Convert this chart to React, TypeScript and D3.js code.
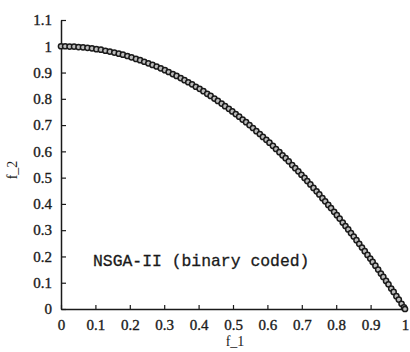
import React, { useEffect, useRef } from 'react';
import * as d3 from 'd3';

const F1 = [
  0, 0.012, 0.025, 0.038, 0.051, 0.064, 0.077, 0.090, 0.103, 0.116, 0.129, 0.142, 0.155, 0.168,
  0.180, 0.193, 0.205, 0.218, 0.230, 0.242, 0.254, 0.266, 0.278, 0.290, 0.302, 0.313, 0.325,
  0.336, 0.348, 0.359, 0.370, 0.381, 0.392, 0.403, 0.414, 0.425, 0.435, 0.446, 0.456, 0.467,
  0.477, 0.488, 0.498, 0.508, 0.518, 0.528, 0.538, 0.548, 0.558, 0.568, 0.578, 0.587, 0.597,
  0.606, 0.616, 0.625, 0.635, 0.644, 0.653, 0.662, 0.672, 0.681, 0.690, 0.699, 0.708, 0.716,
  0.725, 0.734, 0.743, 0.751, 0.760, 0.768, 0.777, 0.785, 0.794, 0.802, 0.810, 0.819, 0.827,
  0.835, 0.843, 0.851, 0.859, 0.867, 0.875, 0.883, 0.891, 0.899, 0.906, 0.914, 0.922, 0.930,
  0.937, 0.945, 0.952, 0.960, 0.967, 0.975, 0.982, 0.990, 0.997, 1.000,
];
const F2 = [
  1.000, 1.000, 0.999, 0.999, 0.997, 0.996, 0.994, 0.992, 0.989, 0.987, 0.983, 0.980, 0.976, 0.972,
  0.968, 0.963, 0.958, 0.952, 0.947, 0.941, 0.935, 0.929, 0.923, 0.916, 0.909, 0.902, 0.894,
  0.887, 0.879, 0.871, 0.863, 0.855, 0.846, 0.838, 0.829, 0.819, 0.811, 0.801, 0.792, 0.782,
  0.772, 0.762, 0.752, 0.742, 0.732, 0.721, 0.711, 0.700, 0.689, 0.677, 0.666, 0.655, 0.644,
  0.633, 0.621, 0.609, 0.597, 0.585, 0.574, 0.562, 0.548, 0.536, 0.524, 0.511, 0.499, 0.487,
  0.474, 0.461, 0.448, 0.436, 0.422, 0.410, 0.396, 0.384, 0.370, 0.357, 0.344, 0.329, 0.316,
  0.303, 0.289, 0.276, 0.262, 0.248, 0.234, 0.220, 0.206, 0.192, 0.179, 0.165, 0.150, 0.135,
  0.122, 0.107, 0.094, 0.078, 0.065, 0.049, 0.036, 0.020, 0.006, 0.000,
];
const X_TICKS = [0, 0.1, 0.2, 0.3, 0.4, 0.5, 0.6, 0.7, 0.8, 0.9, 1];
const Y_TICKS = [0, 0.1, 0.2, 0.3, 0.4, 0.5, 0.6, 0.7, 0.8, 0.9, 1, 1.1];
const LABEL = 'NSGA-II (binary coded)';

const W = 410;
const H = 352;

export default function App() {
  const svgRef = useRef<SVGSVGElement>(null);

  useEffect(() => {
    const svg = d3.select(svgRef.current);
    svg.selectAll('*').remove();

    const x = d3.scaleLinear().domain([0, 1]).range([61, 405]);
    const y = d3.scaleLinear().domain([0, 1.1]).range([309, 20]);
    const ink = '#1a1a1a';
    const serif = "'Liberation Serif', 'DejaVu Serif', serif";

    const xAxis = svg.append('g')
      .attr('transform', `translate(0, ${y(0)})`)
      .call(d3.axisBottom(x).tickValues(X_TICKS).tickSizeInner(-4).tickSizeOuter(0)
        .tickPadding(10).tickFormat(d => d3.format('~g')(d as number)));
    const yAxis = svg.append('g')
      .attr('transform', `translate(${x(0)}, 0)`)
      .call(d3.axisLeft(y).tickValues(Y_TICKS).tickSizeInner(-5).tickSizeOuter(0)
        .tickPadding(9).tickFormat(d => d3.format('~g')(d as number)));

    [xAxis, yAxis].forEach(g => {
      g.attr('font-family', null).attr('font-size', null);
      g.select('.domain').attr('stroke', ink).attr('stroke-width', 1.5);
      g.selectAll('.tick line').attr('stroke', ink).attr('stroke-width', 1.2);
      g.selectAll('.tick text').attr('fill', ink)
        .attr('stroke', ink).attr('stroke-width', 0.35)
        .style('font-family', serif).style('font-size', '15px');
    });

    const pts = F1.map((f, i) => [f, F2[i]] as [number, number]);

    svg.append('path')
      .datum(pts)
      .attr('fill', 'none')
      .attr('stroke', ink)
      .attr('stroke-width', 1)
      .attr('d', d3.line<[number, number]>().x(d => x(d[0])).y(d => y(d[1])));

    svg.append('g')
      .selectAll('circle')
      .data(pts)
      .enter()
      .append('circle')
      .attr('cx', d => x(d[0]))
      .attr('cy', d => y(d[1]))
      .attr('r', 2.6)
      .attr('fill', '#bdbdbd')
      .attr('stroke', ink)
      .attr('stroke-width', 1.5);

    svg.append('text')
      .attr('x', 93)
      .attr('y', 266)
      .attr('fill', ink)
      .attr('stroke', ink).attr('stroke-width', 0.3)
      .style('font-family', "'Liberation Mono', 'DejaVu Sans Mono', monospace")
      .style('font-size', '16.4px')
      .text(LABEL);

    svg.append('text')
      .attr('x', 235)
      .attr('y', 346)
      .attr('text-anchor', 'middle')
      .attr('fill', ink)
      .style('font-family', serif)
      .style('font-size', '14px')
      .text('f_1');

    svg.append('text')
      .attr('transform', 'translate(17, 170) rotate(-90)')
      .attr('text-anchor', 'middle')
      .attr('fill', ink)
      .style('font-family', serif)
      .style('font-size', '14px')
      .text('f_2');
  }, []);

  return (
    <svg ref={svgRef} width={W} height={H}
      style={{ position: 'absolute', left: 0, top: 0, background: '#fff', display: 'block' }} />
  );
}
